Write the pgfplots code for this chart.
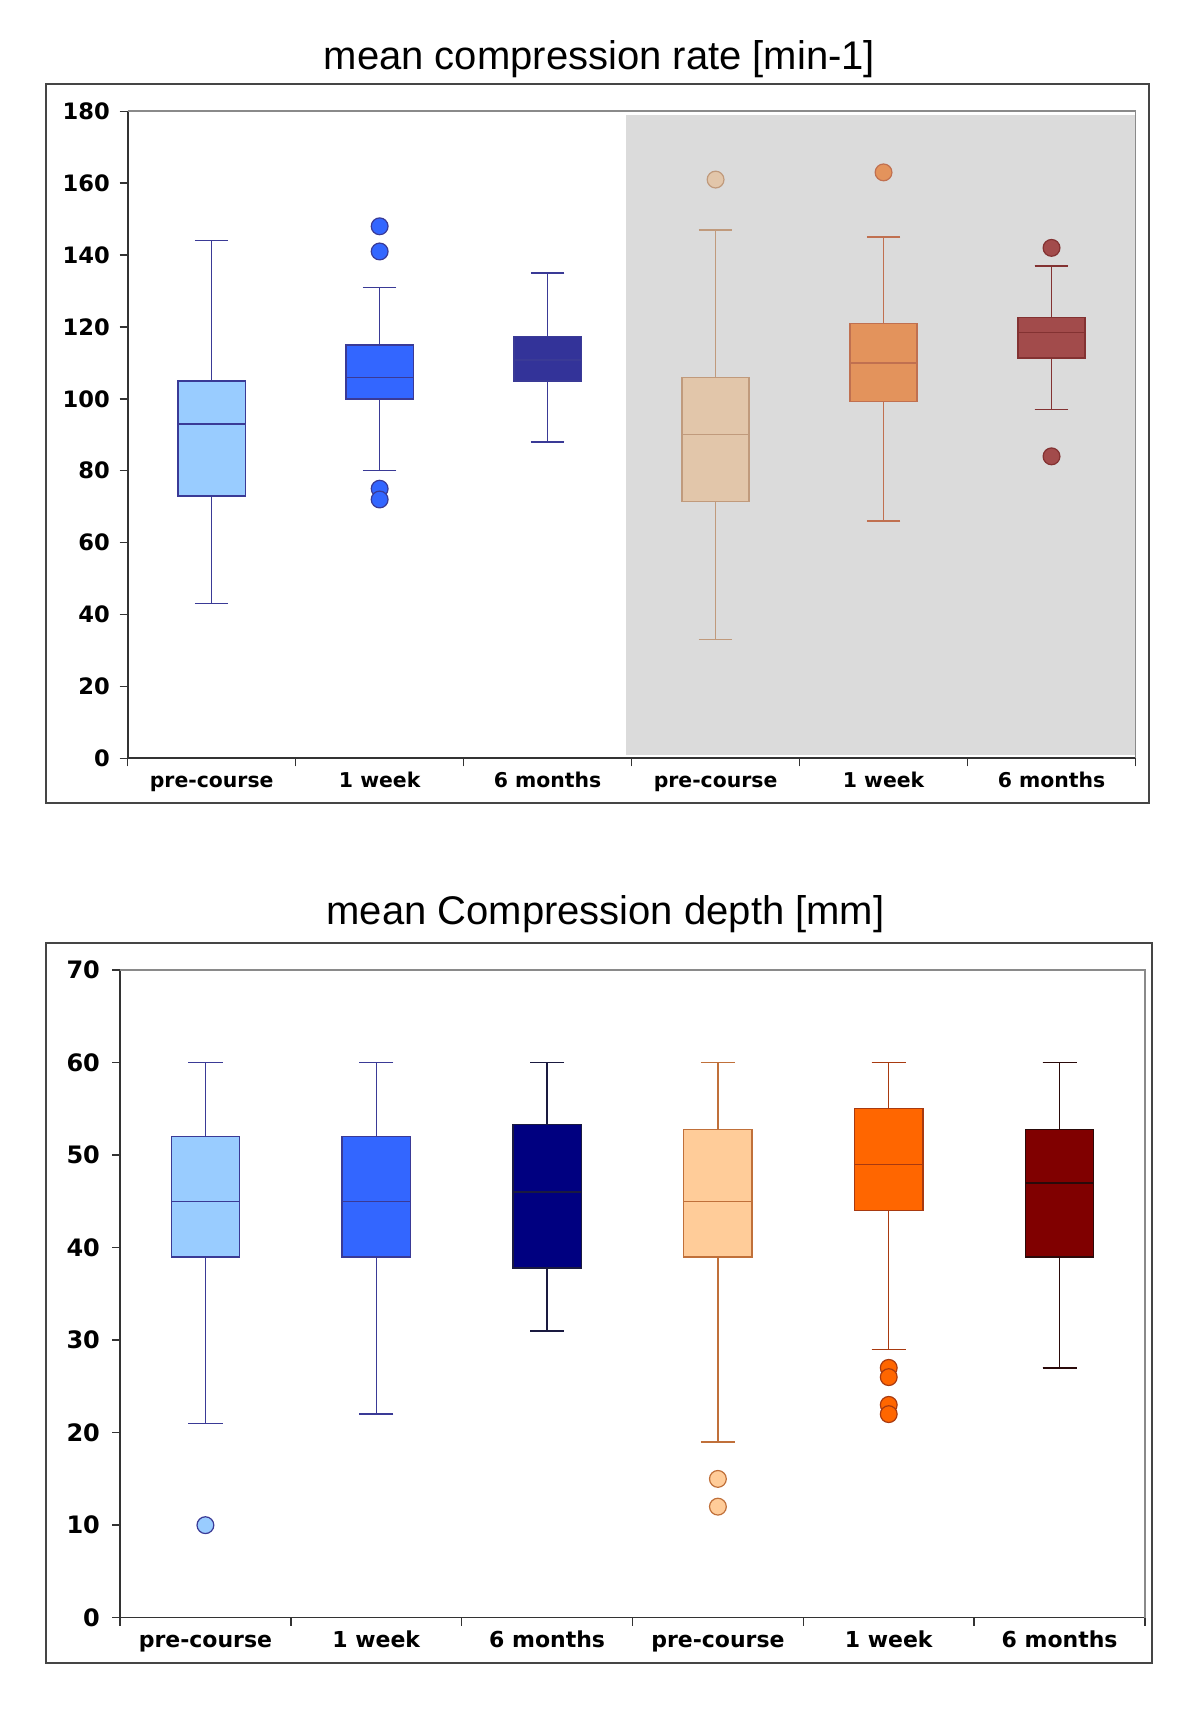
\documentclass[border=0pt]{standalone}
\usepackage{fontspec}
\usepackage{pgfplots}
\pgfplotsset{compat=1.18}
\usepgfplotslibrary{statistics}
\setmainfont{DejaVu Sans}
\newfontfamily\titlefont{Liberation Sans}

\definecolor{axisdark}{HTML}{333333}
\definecolor{axisgray}{HTML}{8A8A8A}
\definecolor{framec}{HTML}{454545}
\definecolor{graybg}{HTML}{DBDBDB}
% blues
\definecolor{bLight}{HTML}{99CCFF}
\definecolor{bMid}{HTML}{3366FF}
\definecolor{bDark}{HTML}{333399}
\definecolor{bNavy}{HTML}{000080}
\definecolor{bEdge}{HTML}{3A3A96}
\definecolor{bWhisk}{HTML}{1A1A40}
% oranges on grey (top chart)
\definecolor{tanG}{HTML}{E2C6AA}
\definecolor{tanGe}{HTML}{C09A7C}
\definecolor{oraG}{HTML}{E3935C}
\definecolor{oraGe}{HTML}{C07050}
\definecolor{marG}{HTML}{A24B4B}
\definecolor{marGe}{HTML}{833232}
% oranges (bottom chart)
\definecolor{peach}{HTML}{FFCC99}
\definecolor{peachE}{HTML}{C0703A}
\definecolor{orng}{HTML}{FF6600}
\definecolor{orngE}{HTML}{A83A10}
\definecolor{maroon}{HTML}{800000}
\definecolor{maroonE}{HTML}{2A0A0A}

\pgfplotsset{
  cprbox/.style={
    scale only axis,
    xmin=0.5, xmax=6.5,
    xtick={1,2,3,4,5,6},
    xticklabels={pre-course,1 week,6 months,pre-course,1 week,6 months},
    minor xtick={0.5,1.5,2.5,3.5,4.5,5.5,6.5},
    major x tick style={draw=none},
    tick align=outside,
    major tick length=4pt, minor tick length=4pt,
    axis x line*=bottom, axis y line*=left,
    axis line style={draw=axisdark, line width=0.8pt},
    tick style={axisdark, line width=0.7pt},
    /pgf/number format/assume math mode=true,
    boxplot/draw direction=y,
    boxplot/box extend=0.4,
    boxplot/whisker extend=0.2,
    clip=false,
  },
  bx/.style n args={3}{draw=#1, fill=#2, line width=0.7pt,
    mark=*, mark size=4.2pt, mark options={solid, fill=#3, draw=#1, line width=0.6pt}},
}

\begin{document}
\begin{tikzpicture}
\path (0pt,0pt) rectangle (600pt,867pt);

% ---------- top chart ----------
\draw[framec, line width=0.9pt] (22.85pt,465.65pt) rectangle (574.65pt,824.85pt);
\node[anchor=base, font=\titlefont\fontsize{20}{24}\selectfont] at (299.75pt,832.4pt)
  {mean compression rate [min-1]};

\begin{axis}[cprbox,
  at={(63.85pt,487.85pt)}, anchor=south west,
  width=503.9pt, height=323.5pt,
  ymin=0, ymax=180, ytick={0,20,...,180},
  yticklabel style={font=\bfseries\fontsize{11.3}{13}\selectfont, xshift=-1.4pt},
  xticklabel style={font=\bfseries\fontsize{10.2}{12}\selectfont, text height=0.73em, text depth=0.2em},
]
\addplot[draw=none, fill=graybg, forget plot]
  coordinates {(3.466,0.9)(6.5,0.9)(6.5,179)(3.466,179)} -- cycle;

\addplot[bx={bEdge}{bLight}{bLight}, boxplot prepared={draw position=1,
  lower whisker=43, lower quartile=73, median=93, upper quartile=105, upper whisker=144}]
  coordinates {};
\addplot[bx={bEdge}{bMid}{bMid}, boxplot prepared={draw position=2,
  lower whisker=80, lower quartile=100, median=106, upper quartile=115, upper whisker=131}]
  coordinates {(0,148)(0,141)(0,75)(0,72)};
\addplot[bx={bEdge}{bDark}{bDark}, boxplot prepared={draw position=3,
  lower whisker=88, lower quartile=105, median=110.8, upper quartile=117.4, upper whisker=135}]
  coordinates {};
\addplot[bx={tanGe}{tanG}{tanG}, boxplot prepared={draw position=4,
  lower whisker=33, lower quartile=71.4, median=90, upper quartile=106, upper whisker=147}]
  coordinates {(0,161)};
\addplot[bx={oraGe}{oraG}{oraG}, boxplot prepared={draw position=5,
  lower whisker=66, lower quartile=99.3, median=110, upper quartile=121, upper whisker=145}]
  coordinates {(0,163)};
\addplot[bx={marGe}{marG}{marG}, boxplot prepared={draw position=6,
  lower whisker=97, lower quartile=111.4, median=118.4, upper quartile=122.7, upper whisker=137}]
  coordinates {(0,142)(0,84)};

\draw[axisgray, line width=0.8pt] (rel axis cs:0,1) -- (rel axis cs:1,1) -- (rel axis cs:1,0);
\end{axis}

% ---------- bottom chart ----------
\draw[framec, line width=0.9pt] (22.85pt,35.35pt) rectangle (576.15pt,395.35pt);
\node[anchor=base, font=\titlefont\fontsize{20}{24}\selectfont] at (302.75pt,404.7pt)
  {mean Compression depth [mm]};

\begin{axis}[cprbox,
  at={(60pt,58.15pt)}, anchor=south west,
  width=512.5pt, height=323.85pt,
  ymin=0, ymax=70, ytick={0,10,...,70},
  yticklabel style={font=\bfseries\fontsize{12}{14}\selectfont, xshift=-2.5pt},
  xticklabel style={font=\bfseries\fontsize{11}{13}\selectfont, text height=0.73em, text depth=0.2em},
]
\addplot[bx={bEdge}{bLight}{bLight}, boxplot prepared={draw position=1,
  lower whisker=21, lower quartile=39, median=45, upper quartile=52, upper whisker=60}]
  coordinates {(0,10)};
\addplot[bx={bEdge}{bMid}{bMid}, boxplot prepared={draw position=2,
  lower whisker=22, lower quartile=39, median=45, upper quartile=52, upper whisker=60}]
  coordinates {};
\addplot[bx={bWhisk}{bNavy}{bNavy}, boxplot prepared={draw position=3,
  lower whisker=31, lower quartile=37.8, median=46, upper quartile=53.3, upper whisker=60}]
  coordinates {};
\addplot[bx={peachE}{peach}{peach}, boxplot prepared={draw position=4,
  lower whisker=19, lower quartile=39, median=45, upper quartile=52.75, upper whisker=60}]
  coordinates {(0,15)(0,12)};
\addplot[bx={orngE}{orng}{orng}, boxplot prepared={draw position=5,
  lower whisker=29, lower quartile=44, median=49, upper quartile=55, upper whisker=60}]
  coordinates {(0,27)(0,26)(0,23)(0,22)};
\addplot[bx={maroonE}{maroon}{maroon}, boxplot prepared={draw position=6,
  lower whisker=27, lower quartile=39, median=47, upper quartile=52.75, upper whisker=60}]
  coordinates {};

\draw[axisgray, line width=0.8pt] (rel axis cs:0,1) -- (rel axis cs:1,1) -- (rel axis cs:1,0);
\end{axis}
\end{tikzpicture}
\end{document}
